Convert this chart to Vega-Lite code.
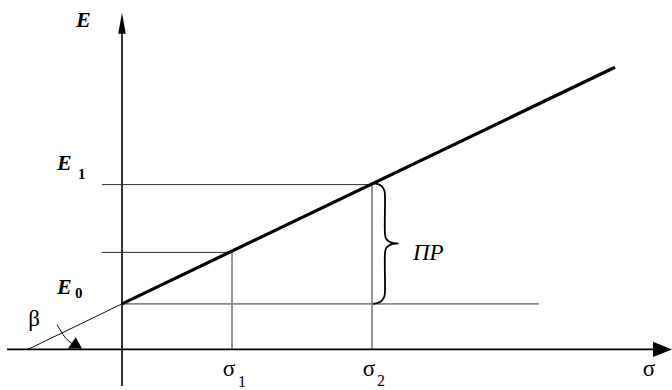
{
  "$schema": "https://vega.github.io/schema/vega-lite/v6.json",
  "width": 672,
  "height": 390,
  "autosize": {"type": "fit", "contains": "padding"},
  "padding": 0,
  "background": "white",
  "config": {"view": {"stroke": null}},
  "datasets": {
    "segs": [
      {"x": 0, "y": -37, "x2": 0, "y2": 330, "kind": "axis"},
      {"x": -115, "y": 0, "x2": 533, "y2": 0, "kind": "axis"},
      {"x": -20, "y": 166.5, "x2": 250, "y2": 166.5, "kind": "guide"},
      {"x": -20, "y": 98, "x2": 110, "y2": 98, "kind": "guide"},
      {"x": 110, "y": 0, "x2": 110, "y2": 98, "kind": "guide"},
      {"x": 250, "y": 0, "x2": 250, "y2": 167, "kind": "guide"},
      {"x": 0, "y": 46, "x2": 417, "y2": 46, "kind": "faint"},
      {"x": -94, "y": 0, "x2": 0, "y2": 46, "kind": "ray"},
      {"x": 0, "y": 46, "x2": 493, "y2": 285, "kind": "main"}
    ],
    "brace": [
      {"i": 0, "x": 251, "y": 168},
      {"i": 1, "x": 256, "y": 167},
      {"i": 2, "x": 260, "y": 164.5},
      {"i": 3, "x": 262.5, "y": 160},
      {"i": 4, "x": 263, "y": 154},
      {"i": 5, "x": 263, "y": 117},
      {"i": 6, "x": 264, "y": 112},
      {"i": 7, "x": 267, "y": 109},
      {"i": 8, "x": 271, "y": 107.5},
      {"i": 9, "x": 276, "y": 107},
      {"i": 10, "x": 271, "y": 106.5},
      {"i": 11, "x": 267, "y": 105},
      {"i": 12, "x": 264, "y": 102},
      {"i": 13, "x": 263, "y": 97},
      {"i": 14, "x": 263, "y": 60},
      {"i": 15, "x": 262.5, "y": 54},
      {"i": 16, "x": 260, "y": 49.5},
      {"i": 17, "x": 256, "y": 47},
      {"i": 18, "x": 251, "y": 46}
    ],
    "arc": [
      {"i": 0, "x": -65, "y": 25},
      {"i": 1, "x": -62, "y": 20},
      {"i": 2, "x": -59, "y": 15},
      {"i": 3, "x": -55, "y": 10},
      {"i": 4, "x": -50, "y": 6}
    ],
    "upArrow": [{"x": 0, "y": 329.5}],
    "rightArrow": [{"x": 540.5, "y": 0}],
    "betaArrow": [{"x": -47, "y": 6.5}],
    "eLabels": [
      {"x": -46, "y": 326, "t": "E"},
      {"x": -65, "y": 181, "t": "E"},
      {"x": -65, "y": 56, "t": "E"}
    ],
    "subs": [
      {"x": -44, "y": 172, "t": "1"},
      {"x": -47, "y": 52, "t": "0"}
    ],
    "greek": [
      {"x": 107, "y": -27, "t": "σ"},
      {"x": 247, "y": -27, "t": "σ"},
      {"x": 527, "y": -27, "t": "σ"},
      {"x": -88, "y": 24, "t": "β"}
    ],
    "greekSubs": [
      {"x": 116, "y": -38, "t": "1"},
      {"x": 255, "y": -37, "t": "2"}
    ],
    "pr": [{"x": 291, "y": 90, "t": "ΠP"}]
  },
  "encoding": {
    "x": {"field": "x", "type": "quantitative", "scale": {"domain": [-122, 550], "nice": false, "zero": false}, "axis": null},
    "y": {"field": "y", "type": "quantitative", "scale": {"domain": [-37, 353], "nice": false, "zero": false}, "axis": null}
  },
  "layer": [
    {
      "data": {"name": "segs"},
      "transform": [{"filter": "datum.kind == 'axis'"}],
      "mark": {"type": "rule", "color": "#000", "strokeWidth": 1.6},
      "encoding": {"x2": {"field": "x2"}, "y2": {"field": "y2"}}
    },
    {
      "data": {"name": "segs"},
      "transform": [{"filter": "datum.kind == 'guide'"}],
      "mark": {"type": "rule", "color": "#2e2e2e", "strokeWidth": 1},
      "encoding": {"x2": {"field": "x2"}, "y2": {"field": "y2"}}
    },
    {
      "data": {"name": "segs"},
      "transform": [{"filter": "datum.kind == 'faint'"}],
      "mark": {"type": "rule", "color": "#8a8a8a", "strokeWidth": 1.6},
      "encoding": {"x2": {"field": "x2"}, "y2": {"field": "y2"}}
    },
    {
      "data": {"name": "segs"},
      "transform": [{"filter": "datum.kind == 'ray'"}],
      "mark": {"type": "rule", "color": "#111", "strokeWidth": 1},
      "encoding": {"x2": {"field": "x2"}, "y2": {"field": "y2"}}
    },
    {
      "data": {"name": "segs"},
      "transform": [{"filter": "datum.kind == 'main'"}],
      "mark": {"type": "rule", "color": "#000", "strokeWidth": 3.2},
      "encoding": {"x2": {"field": "x2"}, "y2": {"field": "y2"}}
    },
    {
      "data": {"name": "brace"},
      "mark": {"type": "line", "interpolate": "catmull-rom", "color": "#000", "strokeWidth": 1.8},
      "encoding": {"order": {"field": "i", "type": "quantitative"}}
    },
    {
      "data": {"name": "arc"},
      "mark": {"type": "line", "interpolate": "catmull-rom", "color": "#000", "strokeWidth": 1},
      "encoding": {"order": {"field": "i", "type": "quantitative"}}
    },
    {
      "data": {"name": "upArrow"},
      "mark": {"type": "point", "shape": "M0,-1L0.36,1L-0.36,1Z", "filled": true, "color": "#000", "size": 441, "opacity": 1, "strokeWidth": 0},
      "encoding": {}
    },
    {
      "data": {"name": "rightArrow"},
      "mark": {"type": "point", "shape": "M1,0L-1,-0.79L-1,0.79Z", "filled": true, "color": "#000", "size": 361, "opacity": 1, "strokeWidth": 0},
      "encoding": {}
    },
    {
      "data": {"name": "betaArrow"},
      "mark": {"type": "point", "shape": "M0.1,-0.8L1,0.8L-1,0.8Z", "filled": true, "color": "#000", "size": 196, "opacity": 1, "strokeWidth": 0},
      "encoding": {}
    },
    {
      "data": {"name": "eLabels"},
      "mark": {"type": "text", "font": "Liberation Serif", "fontStyle": "italic", "fontWeight": "bold", "fontSize": 22, "align": "left", "baseline": "alphabetic", "color": "#000"},
      "encoding": {"text": {"field": "t"}}
    },
    {
      "data": {"name": "subs"},
      "mark": {"type": "text", "font": "Liberation Serif", "fontWeight": "bold", "fontSize": 15, "align": "left", "baseline": "alphabetic", "color": "#000"},
      "encoding": {"text": {"field": "t"}}
    },
    {
      "data": {"name": "greek"},
      "mark": {"type": "text", "font": "Liberation Serif", "fontSize": 23, "align": "center", "baseline": "alphabetic", "color": "#000"},
      "encoding": {"text": {"field": "t"}}
    },
    {
      "data": {"name": "greekSubs"},
      "mark": {"type": "text", "font": "Liberation Serif", "fontSize": 16, "align": "left", "baseline": "alphabetic", "color": "#000"},
      "encoding": {"text": {"field": "t"}}
    },
    {
      "data": {"name": "pr"},
      "mark": {"type": "text", "font": "Liberation Serif", "fontStyle": "italic", "fontSize": 23, "align": "left", "baseline": "alphabetic", "color": "#000"},
      "encoding": {"text": {"field": "t"}}
    }
  ]
}
